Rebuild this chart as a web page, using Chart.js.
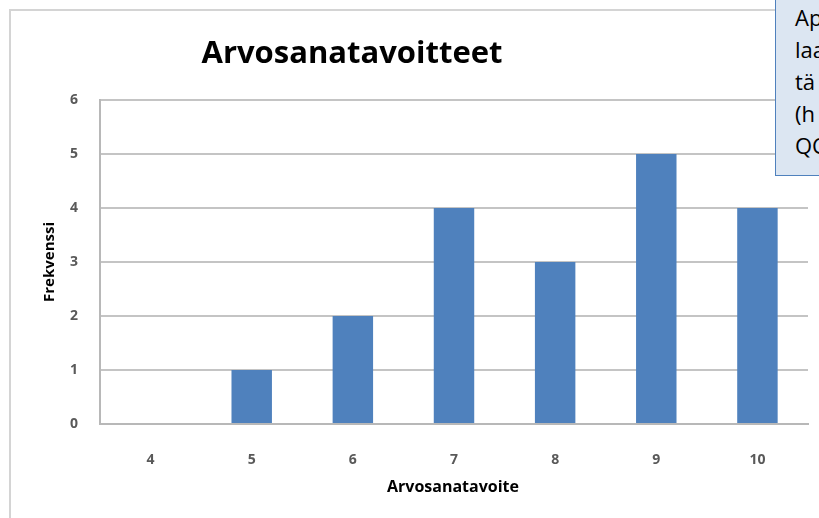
<!DOCTYPE html>
<html>
<head>
<meta charset="utf-8">
<script src="https://cdn.jsdelivr.net/npm/chart.js@4"></script>
<style>
  html, body { margin: 0; padding: 0; background: #fff; overflow: hidden; }
  #wrap { position: relative; width: 819px; height: 518px; }
  /* outer chart frame, runs past the right and bottom edges */
  #frame { position: absolute; left: 9px; top: 9px; width: 900px; height: 600px;
           border: 2px solid #d4d4d4; box-sizing: border-box; }
  #chart { position: absolute; left: 0; top: 0; }
  /* comment box overlapping the top right corner */
  #note { position: absolute; left: 775px; top: -2px; width: 120px; height: 178px;
          background: #dce6f2; border: 1px solid #4f81bd; box-sizing: border-box;
          font-family: 'Open Sans', sans-serif; font-size: 22px; line-height: 32px;
          color: #000; padding: 2px 0 0 19px; white-space: nowrap; overflow: hidden; }
</style>
</head>
<body>
<div id="wrap">
  <div id="frame"></div>
  <canvas id="chart" width="819" height="518"></canvas>
  <div id="note">Ap<br>laa<br>tä<br>(h<br>QC</div>
</div>
<script>
/* ─── data ─────────────────────────────────────── */
const grades = ['4', '5', '6', '7', '8', '9', '10'];
const counts = [0, 1, 2, 4, 3, 5, 4];
const yTicks = [0, 1, 2, 3, 4, 5, 6];

const chartTitle = 'Arvosanatavoitteet';
const xTitle = 'Arvosanatavoite';
const yTitle = 'Frekvenssi';

/* ─── titles drawn by hand so they sit where Excel put them ─── */
const titles = {
  id: 'titles',
  afterDraw(chart) {
    const c = chart.ctx;
    c.save();
    c.fillStyle = '#000';
    c.textAlign = 'center';
    c.textBaseline = 'alphabetic';
    c.font = 'bold 31px "Open Sans"';
    c.fillText(chartTitle, 352, 63);

    c.textBaseline = 'middle';
    c.font = 'bold 16px "Open Sans"';
    c.fillText(xTitle, 453, 487);

    c.font = 'bold 15px "Open Sans"';
    c.translate(50, 262);
    c.rotate(-Math.PI / 2);
    c.fillText(yTitle, 0, 0);
    c.restore();
  }
};

new Chart(document.getElementById('chart'), {
  type: 'bar',
  data: {
    labels: grades,
    datasets: [{
      data: counts,
      backgroundColor: '#4f81bd',
      barPercentage: 0.4,
      categoryPercentage: 1
    }]
  },
  options: {
    responsive: false,
    animation: false,
    layout: { padding: { top: 100, right: 11, left: 0, bottom: 0 } },
    plugins: { legend: { display: false }, tooltip: { enabled: false } },
    scales: {
      x: {
        afterFit(s) { s.height = 94; },
        grid: { display: false },
        border: { color: '#b8b8b8', width: 2 },
        ticks: { color: '#595959', padding: 20, font: { family: 'Open Sans', size: 14, weight: 'bold' } }
      },
      y: {
        min: 0, max: 6,
        afterFit(s) { s.width = 100; },
        afterBuildTicks(s) { s.ticks = yTicks.map(v => ({ value: v })); },
        grid: { color: '#c4c4c4', lineWidth: 2, drawTicks: false },
        border: { color: '#b8b8b8', width: 2 },
        ticks: { color: '#595959', padding: 22, font: { family: 'Open Sans', size: 14, weight: 'bold' } }
      }
    }
  },
  plugins: [titles]
});
</script>
</body>
</html>
